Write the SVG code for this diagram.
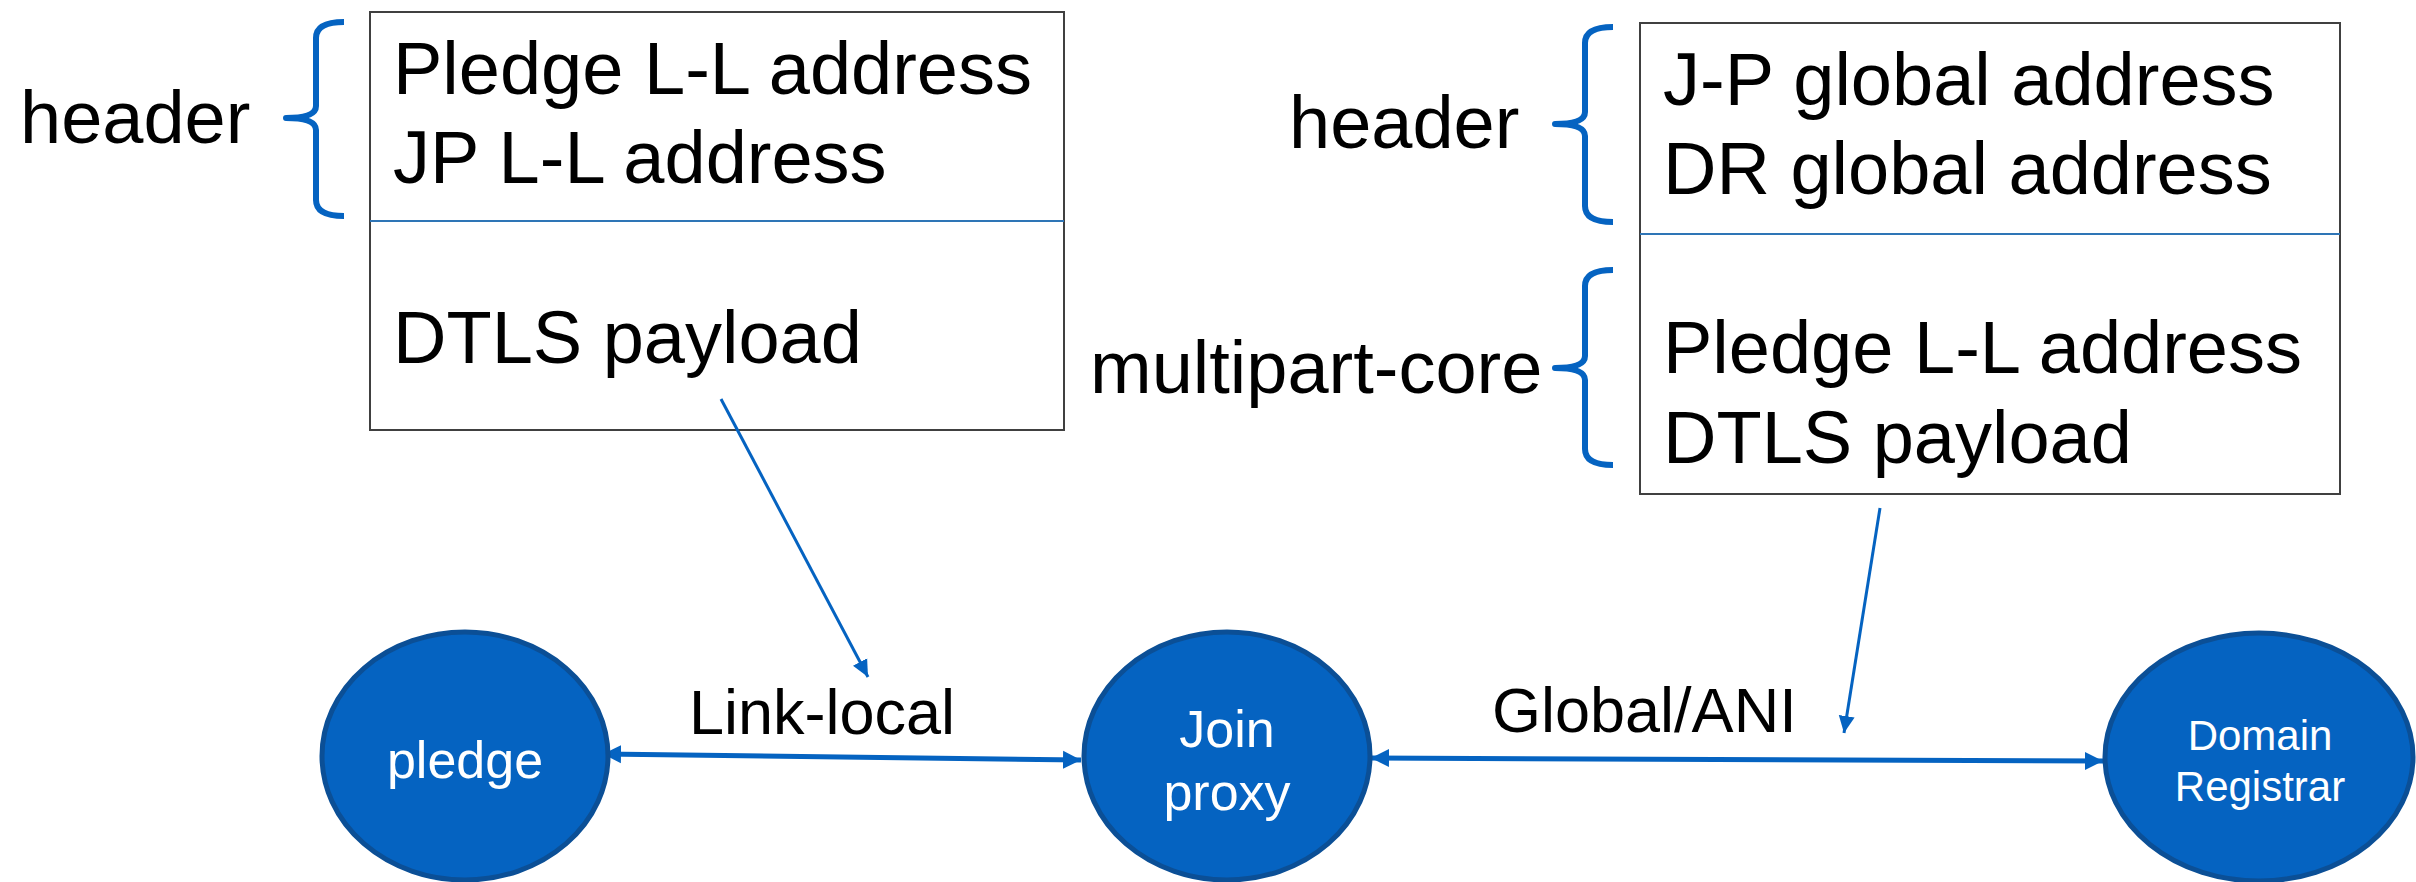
<svg xmlns="http://www.w3.org/2000/svg" width="2416" height="882" viewBox="0 0 2416 882">
  <style>
    .lbl { font-family: "Liberation Sans", Arial, sans-serif; fill: #000; }
    .big { font-size: 74px; }
    .edge { font-size: 63px; }
    .node { fill: #0563C1; stroke: #0B4F96; stroke-width: 5; }
    .ntxt { font-family: "Liberation Sans", Arial, sans-serif; fill: #fff; text-anchor: middle; }
    .box { fill: #fff; stroke: #404040; stroke-width: 2; }
    .div { stroke: #2E75B6; stroke-width: 2; }
    .brace { fill: none; stroke: #0563C1; stroke-width: 6; stroke-linejoin: round; }
    .thick { stroke: #0563C1; stroke-width: 5; fill: none; }
    .thin { stroke: #0563C1; stroke-width: 3; fill: none; }
  </style>
  <defs>
    <marker id="ah" markerUnits="userSpaceOnUse" markerWidth="20" markerHeight="20" viewBox="0 0 20 20" refX="18" refY="10" orient="auto-start-reverse">
      <path d="M0,1 L18,10 L0,19 Z" fill="#0563C1"/>
    </marker>
    <marker id="ahs" markerUnits="userSpaceOnUse" markerWidth="18" markerHeight="18" viewBox="0 0 18 18" refX="17" refY="9" orient="auto">
      <path d="M0,1 L17,9 L0,17 Z" fill="#0563C1"/>
    </marker>
  </defs>

  <g id="left-packet">
    <rect class="box" x="370" y="12" width="694" height="418"/>
    <line class="div" x1="370" y1="221" x2="1064" y2="221"/>
    <text class="lbl big" x="393" y="94">Pledge L-L address</text>
    <text class="lbl big" x="393" y="183">JP L-L address</text>
    <text class="lbl big" x="393" y="363">DTLS payload</text>
  </g>
  <g id="left-header-label">
    <path class="brace" d="M344,22 Q316,22 316,38 L316,106 Q316,118 286,118 Q316,118 316,130 L316,200 Q316,216 344,216"/>
    <text class="lbl big" x="20" y="143">header</text>
  </g>

  <g id="right-packet">
    <rect class="box" x="1640" y="23" width="700" height="471"/>
    <line class="div" x1="1640" y1="234" x2="2340" y2="234"/>
    <text class="lbl big" x="1663" y="105">J-P global address</text>
    <text class="lbl big" x="1663" y="194">DR global address</text>
    <text class="lbl big" x="1663" y="373">Pledge L-L address</text>
    <text class="lbl big" x="1663" y="463">DTLS payload</text>
  </g>
  <g id="right-header-label">
    <path class="brace" d="M1613,27 Q1585,27 1585,43 L1585,112 Q1585,124 1555,124 Q1585,124 1585,136 L1585,206 Q1585,222 1613,222"/>
    <text class="lbl big" x="1289" y="148">header</text>
  </g>
  <g id="multipart-core-label">
    <path class="brace" d="M1613,270 Q1585,270 1585,286 L1585,356 Q1585,368 1555,368 Q1585,368 1585,380 L1585,449 Q1585,465 1613,465"/>
    <text class="lbl big" x="1090" y="393">multipart-core</text>
  </g>

  <g id="connectors">
    <line class="thick" x1="603" y1="754" x2="1081" y2="760" marker-start="url(#ah)" marker-end="url(#ah)"/>
    <line class="thick" x1="1371" y1="758" x2="2103" y2="761" marker-start="url(#ah)" marker-end="url(#ah)"/>
    <line class="thin" x1="721" y1="399" x2="868" y2="677" marker-end="url(#ahs)"/>
    <line class="thin" x1="1880" y1="508" x2="1844" y2="733" marker-end="url(#ahs)"/>
    <text class="lbl edge" x="689" y="734">Link-local</text>
    <text class="lbl edge" x="1492" y="732">Global/ANI</text>
  </g>

  <g id="pledge">
    <ellipse class="node" cx="465" cy="756" rx="143" ry="124"/>
    <text class="ntxt" x="465" y="778" font-size="52">pledge</text>
  </g>
  <g id="join-proxy">
    <ellipse class="node" cx="1227" cy="756" rx="143" ry="124"/>
    <text class="ntxt" x="1227" y="747" font-size="52">Join</text>
    <text class="ntxt" x="1227" y="810" font-size="52">proxy</text>
  </g>
  <g id="domain-registrar">
    <ellipse class="node" cx="2259" cy="757" rx="154" ry="124"/>
    <text class="ntxt" x="2260" y="750" font-size="42">Domain</text>
    <text class="ntxt" x="2260" y="801" font-size="42">Registrar</text>
  </g>
</svg>
